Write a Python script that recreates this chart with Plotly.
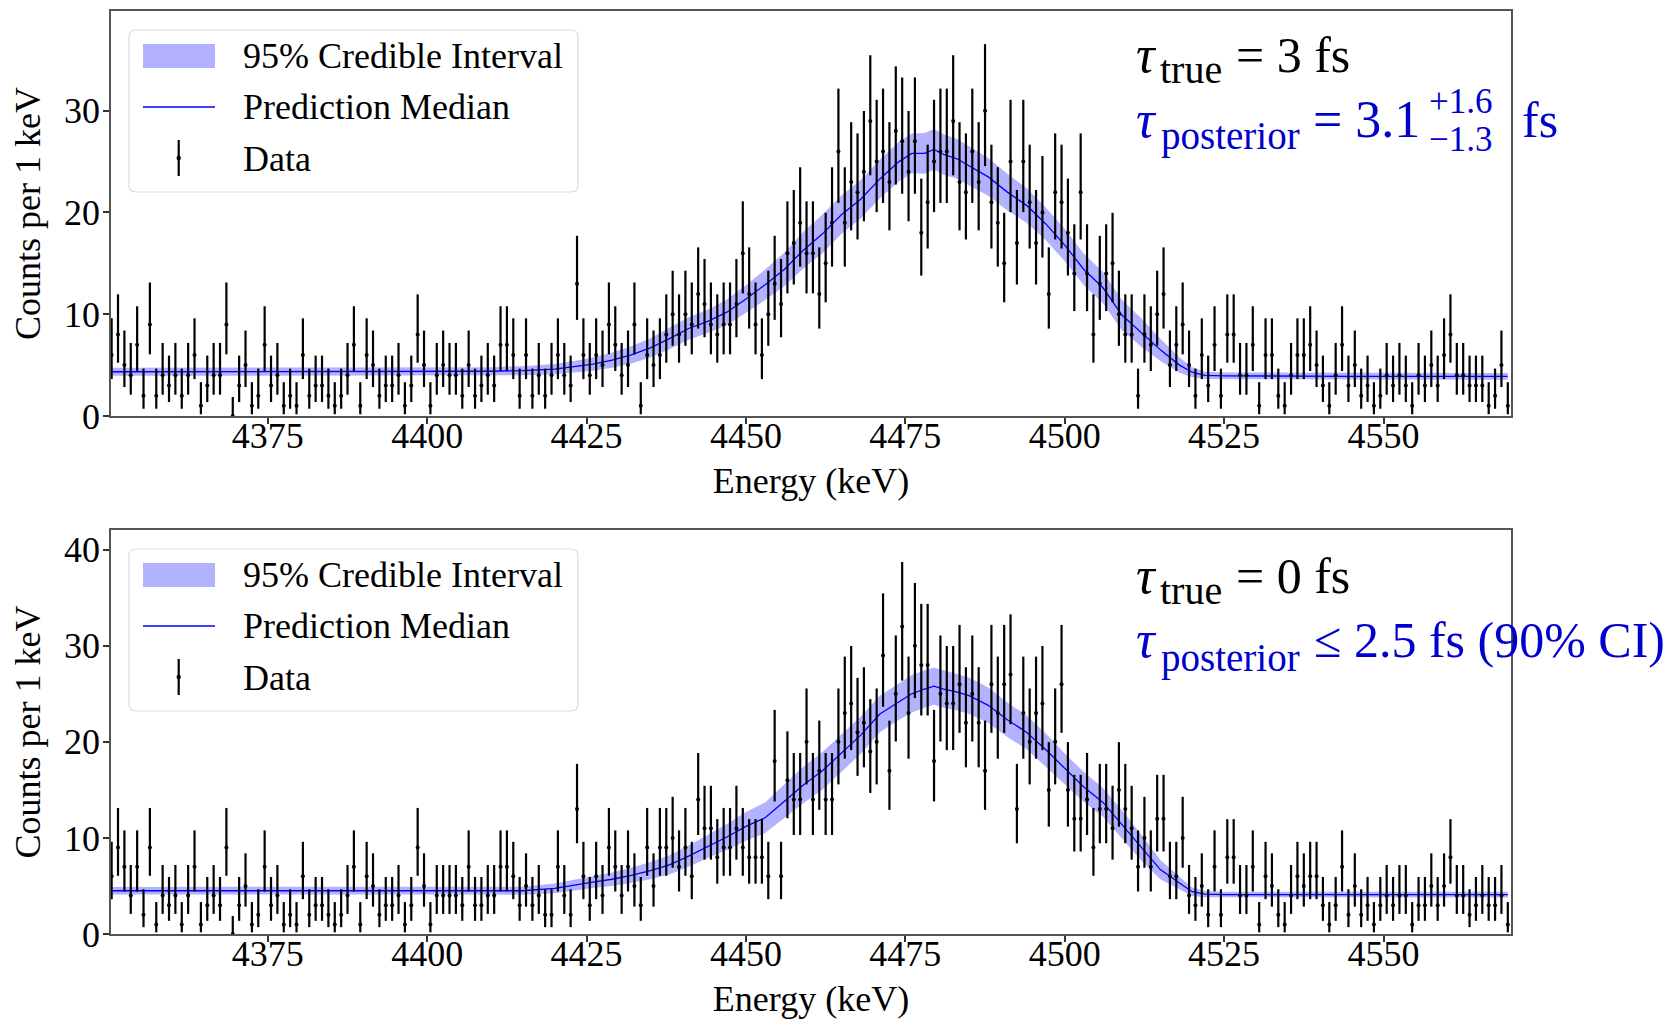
import plotly.graph_objects as go
import math

# ---------------- data ----------------
E_START = 4350.5  # first bin centre (keV), 1 keV bins
counts_top = [
    6, 8, 5, 4, 7, 2, 9, 2, 4, 3, 4, 2, 4, 6, 1, 3, 4, 4, 9, 0, 3, 5, 1, 2, 7, 3, 4, 1, 2, 1,
    6, 2, 3, 3, 2, 1, 2, 4, 7, 1, 6, 5, 2, 3, 3, 4,
    1, 3, 8, 5, 1, 4, 5, 4, 4, 2, 5, 2, 3, 4, 3, 7, 7, 6, 2, 6, 2, 4, 2, 4, 6, 4, 3, 13, 6, 4,
    6, 5, 9, 7, 4, 5, 9, 1, 6, 5, 6, 8, 10, 8, 10,
    9, 12, 11, 9, 8, 9, 9, 11, 16, 12, 9, 6, 10, 13, 11, 16, 17, 19, 16, 16, 12, 15, 19, 26, 19,
    23, 22, 24, 29, 25, 26, 23, 28, 27, 24, 27, 18, 21, 25, 26, 26, 29, 23, 22,
    26, 23, 30, 21, 19, 15, 25, 17, 25, 21, 17, 20, 12, 22, 21, 18, 14, 22, 14, 8, 13, 14, 15, 10, 8,
    8, 2, 8, 7, 10, 12, 5, 7, 9, 5, 2, 6, 3, 7, 2, 8, 8, 4, 4, 7,
    1, 6, 6, 2, 1, 4, 6, 6, 7, 5, 3, 1, 4, 7, 3, 5, 2, 3, 1, 2, 4, 3, 4, 3, 1, 4, 3, 5, 3, 6,
    8, 4, 4, 3, 3, 3, 1, 2, 5, 1,
]
counts_bot = [
    6, 9, 7, 4, 7, 2, 9, 1, 4, 3, 4, 1, 4, 7, 1, 3, 4, 3, 9, 0, 3, 5, 1, 2, 7, 3, 4, 1, 2, 1,
    6, 2, 3, 3, 2, 1, 2, 4, 7, 1, 6, 5, 2, 3, 3, 4,
    1, 3, 9, 5, 1, 4, 4, 4, 4, 3, 7, 3, 3, 4, 4, 7, 7, 6, 3, 5, 3, 4, 2, 2, 7, 4, 2, 13, 6, 3,
    6, 4, 9, 7, 4, 7, 5, 3, 9, 5, 9, 9, 10, 7, 9,
    6, 14, 11, 11, 8, 9, 9, 11, 9, 8, 8, 8, 6, 18, 6, 16, 14, 14, 20, 14, 17, 14, 14, 20, 23,
    24, 21, 22, 19, 20, 29, 17, 25, 32, 23, 30, 28, 28, 18, 25, 24, 24, 26, 22,
    25, 22, 17, 26, 23, 26, 27, 13, 23, 20, 23, 24, 15, 20, 26, 15, 12, 12, 14, 9, 13, 13, 11, 15, 13,
    11, 7, 10, 7, 12, 12, 6, 6, 10, 4, 3, 5, 2, 7, 2, 8, 8, 4, 4, 7,
    1, 6, 5, 2, 1, 4, 6, 5, 6, 6, 3, 1, 3, 7, 2, 5, 2, 3, 1, 3, 4, 3, 4, 4, 1, 3, 3, 5, 3, 5,
    8, 4, 4, 2, 3, 4, 3, 3, 4, 1,
]
energy = [E_START + i for i in range(len(counts_top))]

knot_e = [4350.5, 4370, 4390, 4410, 4415, 4420, 4423, 4426, 4429, 4432, 4435, 4438, 4441, 4444,
          4447, 4450, 4453, 4456, 4459, 4462, 4465, 4468, 4471, 4474, 4476, 4478, 4479.5, 4481,
          4483, 4485, 4488, 4491, 4494, 4497, 4500, 4503, 4506, 4509, 4512, 4515, 4518, 4520,
          4522, 4525, 4545, 4569.5]
top_med = [4.35, 4.35, 4.35, 4.4, 4.45, 4.6, 4.85, 5.1, 5.5, 6.0, 6.7, 7.6, 8.6, 9.3, 10.2, 11.5,
           12.9, 14.4, 16.3, 17.9, 19.8, 21.3, 23.3, 25.0, 25.8, 25.8, 26.2, 25.7, 25.3, 24.6,
           23.5, 22.0, 20.7, 18.9, 16.8, 14.4, 12.6, 9.9, 8.2, 6.5, 5.0, 4.3, 4.0, 3.95, 3.9, 3.9]
top_hi = [4.75, 4.75, 4.75, 4.8, 4.9, 5.1, 5.4, 5.75, 6.25, 6.85, 7.65, 8.65, 9.7, 10.45, 11.45,
          12.85, 14.4, 16.05, 18.1, 19.8, 21.7, 23.2, 25.2, 26.95, 27.75, 27.8, 28.2, 27.7, 27.25,
          26.5, 25.35, 23.8, 22.4, 20.5, 18.4, 15.95, 14.15, 11.4, 9.6, 7.6, 5.75, 4.8, 4.35,
          4.28, 4.23, 4.23]
top_lo = [3.95, 3.95, 3.95, 4.0, 4.0, 4.1, 4.3, 4.45, 4.75, 5.15, 5.75, 6.55, 7.5, 8.15, 8.95,
          10.15, 11.4, 12.75, 14.5, 16.0, 17.9, 19.4, 21.4, 23.05, 23.85, 23.8, 24.2, 23.7, 23.35,
          22.7, 21.65, 20.2, 19.0, 17.3, 15.2, 12.85, 11.05, 8.4, 6.8, 5.4, 4.25, 3.8, 3.65,
          3.62, 3.57, 3.57]
bot_med = [4.5, 4.5, 4.5, 4.5, 4.5, 4.75, 5.1, 5.4, 5.7, 6.1, 6.6, 7.2, 8.1, 9.1, 10.1, 11.2,
           12.1, 13.8, 15.5, 17.0, 18.9, 20.7, 22.9, 24.2, 25.0, 25.5, 25.8, 25.5, 25.2, 24.8,
           23.8, 22.3, 21.0, 19.2, 17.2, 15.3, 13.7, 11.4, 9.0, 6.7, 5.3, 4.4, 4.15, 4.1, 4.1, 4.1]
bot_hi = [4.9, 4.9, 4.9, 4.9, 4.92, 5.25, 5.65, 6.0, 6.4, 6.9, 7.5, 8.2, 9.2, 10.3, 11.45, 12.7,
          13.7, 15.55, 17.4, 18.95, 20.85, 22.65, 24.8, 26.1, 26.95, 27.45, 27.75, 27.45, 27.1,
          26.7, 25.65, 24.1, 22.75, 20.9, 18.8, 16.85, 15.2, 12.85, 10.35, 7.7, 5.95, 4.85, 4.48,
          4.4, 4.4, 4.4]
bot_lo = [4.1, 4.1, 4.1, 4.1, 4.08, 4.25, 4.55, 4.8, 5.0, 5.3, 5.7, 6.2, 7.0, 7.9, 8.75, 9.7,
          10.5, 12.05, 13.6, 15.05, 16.95, 18.75, 21.0, 22.3, 23.05, 23.55, 23.85, 23.55, 23.3,
          22.9, 21.95, 20.5, 19.25, 17.5, 15.6, 13.75, 12.2, 9.95, 7.65, 5.7, 4.65, 3.95, 3.82,
          3.8, 3.8, 3.8]

x_ticks = [4375, 4400, 4425, 4450, 4475, 4500, 4525, 4550]
legend_labels = ["95% Credible Interval", "Prediction Median", "Data"]


def poisson_err(n):
    # Gehrels (1986) approximations to the 1-sigma Poisson interval
    up = math.sqrt(n + 0.75) + 1.0
    if n <= 0:
        return up, 0.0
    lo_lim = n * (1 - 1 / (9 * n) - 1 / (3 * math.sqrt(n))) ** 3
    return up, n - lo_lim


# ---------------- layout helpers ----------------
W, H = 1676, 1019
L, R, T, B = 111, 165, 11, 85
PW, PH = W - L - R, H - T - B
SERIF = "Liberation Serif, Times New Roman, serif"
BLUE_TXT = "#0000cc"


def X(px):
    return (px - L) / PW


def Y(py):
    return (H - B - py) / PH


fig = go.Figure()

panels = [
    ("x", "y", counts_top, top_med, top_lo, top_hi),
    ("x2", "y2", counts_bot, bot_med, bot_lo, bot_hi),
]
for xa, ya, cnt, med, lo, hi in panels:
    fig.add_trace(go.Scatter(
        x=knot_e + knot_e[::-1], y=hi + lo[::-1], xaxis=xa, yaxis=ya,
        mode="lines", line=dict(width=0), fill="toself",
        fillcolor="rgba(0,0,255,0.3)", name=legend_labels[0], hoverinfo="skip",
        showlegend=False))
    fig.add_trace(go.Scatter(
        x=knot_e, y=med, xaxis=xa, yaxis=ya, mode="lines",
        line=dict(color="#0000ff", width=1.3), name=legend_labels[1], showlegend=False))
    ups, downs = zip(*[poisson_err(c) for c in cnt])
    fig.add_trace(go.Scatter(
        x=energy, y=cnt, xaxis=xa, yaxis=ya, mode="markers",
        marker=dict(color="black", size=4),
        error_y=dict(type="data", symmetric=False, array=list(ups), arrayminus=list(downs),
                     color="black", thickness=2.2, width=0),
        name=legend_labels[2], showlegend=False))

axis_common = dict(
    showline=True, linecolor="#555555", linewidth=1.6, mirror=True, showgrid=False,
    zeroline=False, ticks="outside", ticklen=6, tickwidth=1.5, tickcolor="#333333",
    tickfont=dict(family=SERIF, size=36, color="black"), automargin=False,
)
xr = [4350.4, 4570.0]
top_dom = [(934 - 416) / PH, 1.0]
bot_dom = [0.0, (934 - 530) / PH]
xtitle = dict(text="Energy (keV)", font=dict(family=SERIF, size=36, color="black"), standoff=13)
ytitle = dict(text="Counts per 1 keV", font=dict(family=SERIF, size=36, color="black"), standoff=12)
fig.update_layout(
    width=W, height=H, margin=dict(l=L, r=R, t=T, b=B, autoexpand=False),
    paper_bgcolor="white", plot_bgcolor="white", showlegend=False,
    xaxis=dict(domain=[0, 1], range=xr, anchor="y", tickvals=x_ticks, ticklabelstandoff=-19,
               title=xtitle, **axis_common),
    yaxis=dict(domain=top_dom, range=[0, 39.8], anchor="x", tickvals=[0, 10, 20, 30],
               ticklabelstandoff=-4, title=ytitle, **axis_common),
    xaxis2=dict(domain=[0, 1], range=xr, anchor="y2", tickvals=x_ticks, ticklabelstandoff=-19,
                title=xtitle, **axis_common),
    yaxis2=dict(domain=bot_dom, range=[0, 42.05], anchor="x2", tickvals=[0, 10, 20, 30, 40],
                ticklabelstandoff=-4, title=ytitle, **axis_common),
)

shapes = []
annos = []


def text(t, px, baseline, size, color="black", italic=False):
    annos.append(dict(
        text=t, x=X(px), y=Y(baseline - 0.3375 * size), xref="paper", yref="paper",
        xanchor="left", yanchor="middle", showarrow=False, borderpad=0,
        font=dict(family=SERIF, size=size, color=color, style="italic" if italic else "normal")))


def rounded_box(x0, y0, x1, y1, r):
    p = (f"M {X(x0 + r)},{Y(y0)} L {X(x1 - r)},{Y(y0)} Q {X(x1)},{Y(y0)} {X(x1)},{Y(y0 + r)} "
         f"L {X(x1)},{Y(y1 - r)} Q {X(x1)},{Y(y1)} {X(x1 - r)},{Y(y1)} "
         f"L {X(x0 + r)},{Y(y1)} Q {X(x0)},{Y(y1)} {X(x0)},{Y(y1 - r)} "
         f"L {X(x0)},{Y(y0 + r)} Q {X(x0)},{Y(y0)} {X(x0 + r)},{Y(y0)} Z")
    shapes.append(dict(type="path", path=p, xref="paper", yref="paper",
                       line=dict(color="#dcdcdc", width=1.2), fillcolor="rgba(255,255,255,0.8)"))


def legend(dy):
    rounded_box(129, 30 + dy, 578, 192 + dy, 7)
    shapes.append(dict(type="rect", xref="paper", yref="paper", x0=X(143), x1=X(215),
                       y0=Y(44 + dy), y1=Y(68 + dy), line=dict(width=0),
                       fillcolor="rgba(0,0,255,0.3)"))
    shapes.append(dict(type="line", xref="paper", yref="paper", x0=X(143), x1=X(215),
                       y0=Y(107 + dy), y1=Y(107 + dy), line=dict(color="#0000ff", width=1.5)))
    shapes.append(dict(type="line", xref="paper", yref="paper", x0=X(178.7), x1=X(178.7),
                       y0=Y(140 + dy), y1=Y(176 + dy), line=dict(color="black", width=2.2)))
    shapes.append(dict(type="circle", xref="paper", yref="paper", x0=X(176.5), x1=X(180.9),
                       y0=Y(155.8 + dy), y1=Y(160.2 + dy), line=dict(width=0), fillcolor="black"))
    text(legend_labels[0], 242, 68 + dy, 36)
    text(legend_labels[1], 242, 119 + dy, 36)
    text(legend_labels[2], 242, 171 + dy, 36)


legend(0)
legend(519)

# top panel annotation
text("τ", 1135, 72, 52, italic=True)
text("true", 1159, 83, 40)
text("= 3 fs", 1235, 72, 50)
text("τ", 1135, 137, 52, BLUE_TXT, italic=True)
text("posterior", 1160, 149, 39, BLUE_TXT)
text("= 3.1", 1312, 137, 52, BLUE_TXT)
text("+1.6", 1428, 113, 35, BLUE_TXT)
text("−1.3", 1428, 151, 35, BLUE_TXT)
text("fs", 1521, 137, 50, BLUE_TXT)

# bottom panel annotation
text("τ", 1135, 593, 52, italic=True)
text("true", 1159, 604, 40)
text("= 0 fs", 1235, 593, 50)
text("τ", 1135, 657, 52, BLUE_TXT, italic=True)
text("posterior", 1160, 671, 39, BLUE_TXT)
text("≤ 2.5 fs (90% CI)", 1313, 657, 50, BLUE_TXT)

fig.update_layout(shapes=shapes, annotations=annos)
fig.write_html("out.html")
